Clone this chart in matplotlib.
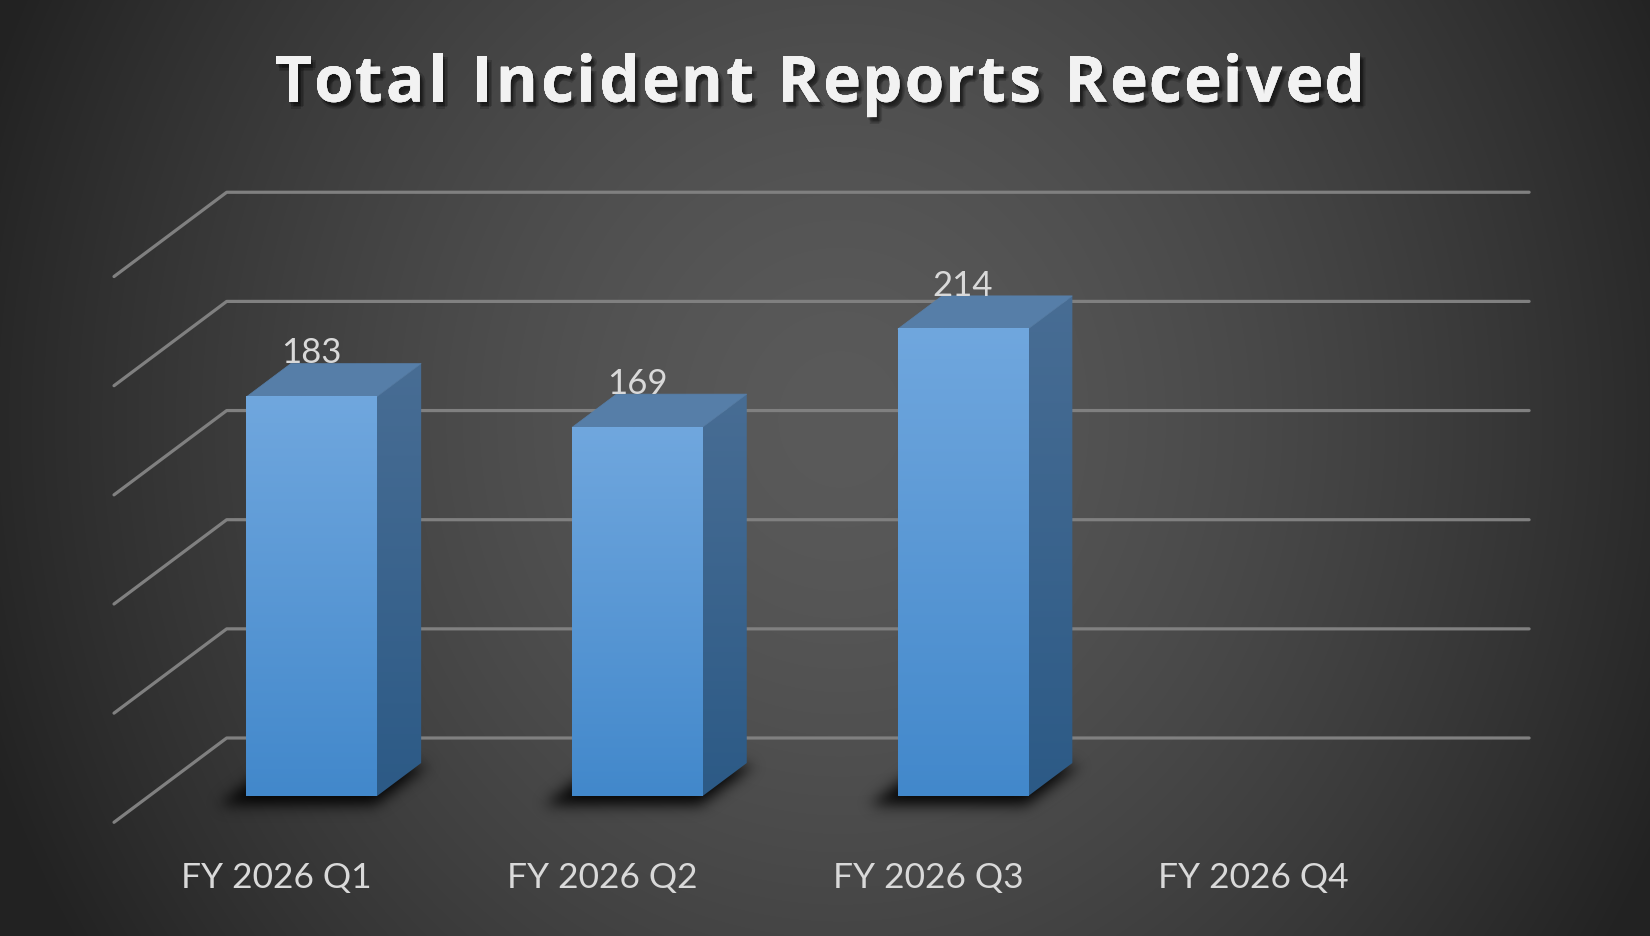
import numpy as np
import matplotlib
matplotlib.use("Agg")
import matplotlib.pyplot as plt
from matplotlib.patches import Polygon
from matplotlib.path import Path
from matplotlib.colors import LinearSegmentedColormap
from matplotlib.font_manager import FontProperties
import matplotlib.patheffects as pe

# chart data
categories = ['FY 2026 Q1', 'FY 2026 Q2', 'FY 2026 Q3', 'FY 2026 Q4']
values = [183, 169, 214, np.nan]   # Q4 has no data yet
grid_ticks = [0, 50, 100, 150, 200, 250]
title = 'Total Incident Reports Received'

plt.rcParams['font.family'] = ['Lato', 'DejaVu Sans']

W, H = 1650, 937
fig = plt.figure(figsize=(W / 100, H / 100), dpi=100)

# layout of the fake 3d box (pixels)
X0_PX = 114.0       # left end of the floor front edge
Y0_PX = 823.3       # floor front edge (from top)
CAT_PX = 325.6      # width of one category
VAL_PX = 2.183      # pixels per unit of value
DEPTH_DX = 112.7 / CAT_PX   # full depth offset, in data units
DEPTH_DY = 84.3 / VAL_PX
Z_FRONT, Z_BACK = 0.308, 0.703  # bar position inside depth
HALF_W = 0.2

# background: radial gradient
bg = fig.add_axes([0, 0, 1, 1], zorder=0)
yy, xx = np.mgrid[0:H, 0:W]
r = np.sqrt(((xx - 840) / 820.0) ** 2 + ((yy - 420) / 900.0) ** 2)
lum = np.clip(90 - 48 * np.clip(r, 0, 1.1) ** 1.5, 0, 255) / 255.0
bg.imshow(np.dstack([lum, lum, lum]), aspect='auto', interpolation='bilinear')
bg.axis('off')

ax = fig.add_axes([0, 0, 1, 1], zorder=1)
ax.patch.set_alpha(0)
xlim = (-X0_PX / CAT_PX, (W - X0_PX) / CAT_PX)
ylim = ((Y0_PX - H) / VAL_PX, Y0_PX / VAL_PX)
ax.set_xlim(*xlim)
ax.set_ylim(*ylim)
ax.axis('off')

n = len(categories)
grid_col = '#808080'
for v in grid_ticks:
    ax.plot([0, DEPTH_DX, n + DEPTH_DX], [v, v + DEPTH_DY, v + DEPTH_DY],
            color=grid_col, lw=2.3, solid_capstyle='round', zorder=1)

bdx = (Z_BACK - Z_FRONT) * DEPTH_DX
bdy = (Z_BACK - Z_FRONT) * DEPTH_DY

# soft shadow under the bars
mask_pts = np.column_stack([xx.ravel() + 0.5, (H - yy.ravel()) - 0.5])
mask = np.zeros(H * W, dtype=float)
for i, val in enumerate(values):
    if np.isnan(val):
        continue
    c = i + 0.5
    zf, zb = Z_FRONT - 0.10, Z_BACK - 0.02
    x0, x1 = c - HALF_W - 0.05, c + HALF_W + 0.03
    foot = [(x0 + zf * DEPTH_DX, zf * DEPTH_DY), (x1 + zf * DEPTH_DX, zf * DEPTH_DY),
            (x1 + zb * DEPTH_DX, zb * DEPTH_DY), (x0 + zb * DEPTH_DX, zb * DEPTH_DY)]
    disp = ax.transData.transform(foot)
    mask += Path(disp).contains_points(mask_pts)
mask = mask.reshape(H, W)  # row 0 = top of figure
sig = 7.0
k = np.exp(-0.5 * (np.arange(-22, 23) / sig) ** 2)
k /= k.sum()
mask = np.apply_along_axis(lambda m: np.convolve(m, k, mode='same'), 1, mask)
mask = np.apply_along_axis(lambda m: np.convolve(m, k, mode='same'), 0, mask)
shadow = np.zeros((H, W, 4))
shadow[..., 3] = np.clip(mask * 1.1, 0, 1) * 0.85
ax.imshow(shadow, extent=xlim + ylim, origin='upper', aspect='auto',
          interpolation='nearest', zorder=2)

front_cmap = LinearSegmentedColormap.from_list('front', ['#4288cb', '#70a7de'])
side_cmap = LinearSegmentedColormap.from_list('side', ['#2c5a86', '#486d94'])
grad = np.linspace(0, 1, 256).reshape(-1, 1)

for i, val in enumerate(values):
    if np.isnan(val):
        continue
    c = i + 0.5
    x0 = c - HALF_W + Z_FRONT * DEPTH_DX
    x1 = c + HALF_W + Z_FRONT * DEPTH_DX
    y0 = Z_FRONT * DEPTH_DY
    top = val + y0
    # side face
    side = Polygon([(x1, y0), (x1 + bdx, y0 + bdy), (x1 + bdx, top + bdy), (x1, top)],
                   closed=True, facecolor='none', edgecolor='none', transform=ax.transData)
    ax.add_patch(side)
    im = ax.imshow(grad, cmap=side_cmap, extent=(x1, x1 + bdx, y0, top + bdy),
                   origin='lower', aspect='auto', zorder=3)
    im.set_clip_path(side)
    # top face
    ax.add_patch(Polygon([(x0, top), (x1, top), (x1 + bdx, top + bdy), (x0 + bdx, top + bdy)],
                         closed=True, facecolor='#567ea8', edgecolor='#567ea8', lw=0.5, zorder=3))
    # front face
    ax.imshow(grad, cmap=front_cmap, extent=(x0, x1, y0, top),
              origin='lower', aspect='auto', zorder=4)
    # value label
    ax.text(c + Z_FRONT * DEPTH_DX, top + bdy + 0.5, f'{val:.0f}', ha='center', va='baseline',
            fontsize=25, color='#d9d9d9', zorder=10)

for i, lab in enumerate(categories):
    ax.text(i + 0.5, (Y0_PX - 888) / VAL_PX, lab, ha='center', va='baseline',
            fontsize=25.5, color='#d9d9d9', zorder=10)

ax.set_xlim(*xlim)
ax.set_ylim(*ylim)

# title with letter spacing, placed char by char
fp = FontProperties(family=['Open Sans', 'Lato'], weight='bold', size=46)
fig.canvas.draw()
rend = fig.canvas.get_renderer()
def tw(s):
    return rend.get_text_width_height_descent(s, fp, ismath=False)[0]
adv = [tw('x' + ch + 'x') - tw('xx') for ch in title]
target = 1090.0
track = (target - sum(adv[:-1]) - tw(title[-1])) / (len(title) - 1)
xpos = 820.0 - target / 2
base = H - 102.7
# soft drop shadow built from a few faint offset copies
shadow_fx = [pe.withSimplePatchShadow(offset=o, shadow_rgbFace='black', alpha=0.16)
             for o in [(1, -2), (2, -3), (3, -4), (2, -5), (4, -3)]]
for ch, a in zip(title, adv):
    if ch != ' ':
        fig.text(xpos / W, base / H, ch, fontproperties=fp, color='#f2f2f2',
                 ha='left', va='baseline', zorder=20, path_effects=shadow_fx)
    xpos += a + track

fig.savefig('out.png', dpi=100)
